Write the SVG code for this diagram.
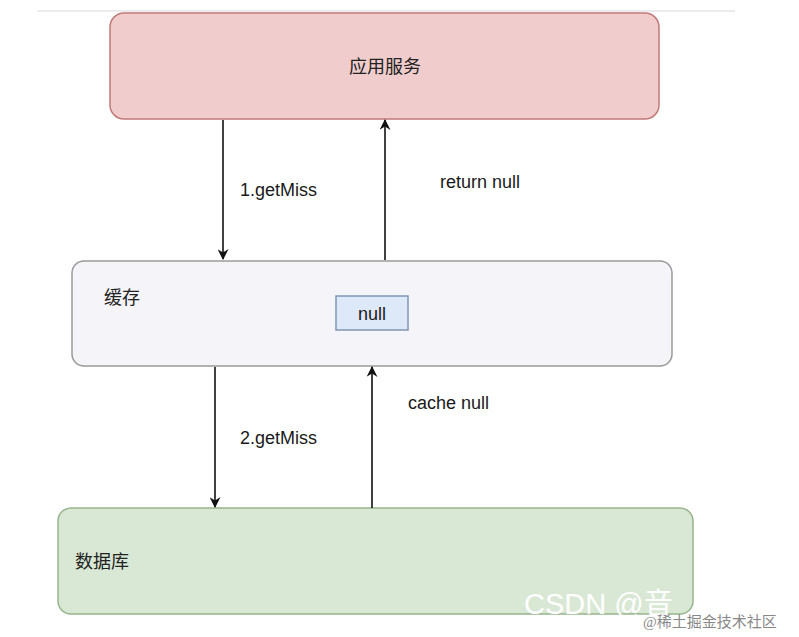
<svg xmlns="http://www.w3.org/2000/svg" width="799" height="637" viewBox="0 0 799 637">
<defs>
<style>
.lbl{font-family:"Liberation Sans","Noto Sans CJK SC",Arial,sans-serif;font-size:18px;fill:#1a1a1a}
.cn{font-family:"Noto Sans CJK SC","Liberation Sans",sans-serif;font-size:18px;fill:#222}
.edge{stroke:#111;stroke-width:1.6;fill:none}
</style>
<marker id="ah" viewBox="0 0 10 10" refX="9" refY="5" markerWidth="12" markerHeight="11" markerUnits="userSpaceOnUse" orient="auto">
<path d="M0,0 L10,5 L0,10 L3,5 Z" fill="#111"/>
</marker>
</defs>
<rect width="799" height="637" fill="#ffffff"/>
<line x1="37" y1="11" x2="735" y2="11" stroke="#d8d8d8" stroke-width="1"/>
<g id="app">
<rect x="110" y="13" width="549" height="106" rx="14" fill="#f0cdcc" stroke="#c07a78" stroke-width="1.5"/>
<text class="cn" x="385" y="73" text-anchor="middle">应用服务</text>
</g>
<g id="cache">
<rect x="72" y="261" width="600" height="105" rx="12" fill="#f5f4f8" stroke="#9a9a9a" stroke-width="1.5"/>
<text class="cn" x="104" y="304">缓存</text>
</g>
<g id="nullbox">
<rect x="336" y="296" width="72" height="34" fill="#dde8f8" stroke="#7f95b5" stroke-width="1.5"/>
<text class="lbl" x="372" y="320" text-anchor="middle">null</text>
</g>
<g id="db">
<rect x="58" y="508" width="635" height="106" rx="13" fill="#d9e8d5" stroke="#97b48c" stroke-width="1.5"/>
<text class="cn" x="75" y="568">数据库</text>
</g>
<g id="connectors">
<line class="edge" x1="223" y1="120" x2="223" y2="259" marker-end="url(#ah)"/>
<line class="edge" x1="385" y1="260" x2="385" y2="120" marker-end="url(#ah)"/>
<line class="edge" x1="215" y1="367" x2="215" y2="507" marker-end="url(#ah)"/>
<line class="edge" x1="372" y1="508" x2="372" y2="367" marker-end="url(#ah)"/>
<text class="lbl" x="240" y="196">1.getMiss</text>
<text class="lbl" x="440" y="188">return null</text>
<text class="lbl" x="408" y="409">cache null</text>
<text class="lbl" x="240" y="444">2.getMiss</text>
</g>
<text x="524" y="614" font-family="Liberation Sans,Noto Sans CJK SC,sans-serif" font-size="29" fill="#ffffff">CSDN @音</text>
<text x="643" y="627" font-family="Liberation Serif,Noto Sans CJK SC,serif" font-size="15" fill="#888">@稀土掘金技术社区</text>
</svg>
